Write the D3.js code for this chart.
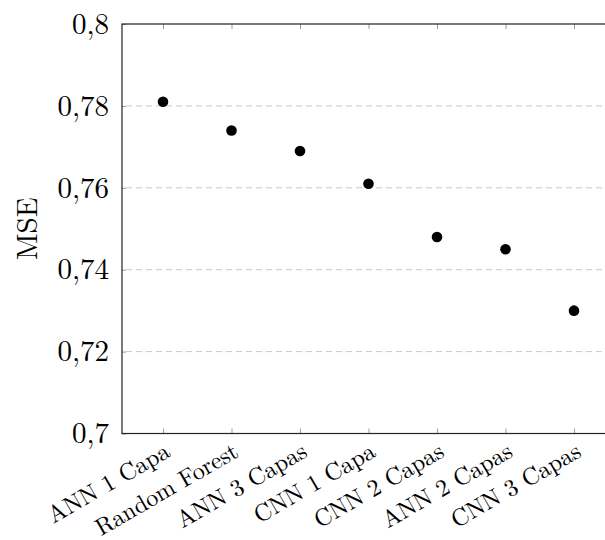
<!DOCTYPE html>
<html lang="es">
<head>
  <meta charset="UTF-8">
  <title>MSE por modelo</title>
  <script src="https://d3js.org/d3.v7.min.js"></script>
  <style>
    body { margin: 0; background: #fff; }
    text { font-family: "Latin Modern Roman", "CMU Serif", "Liberation Serif", serif; fill: #000; }
  </style>
</head>
<body>
<script>
  // modelos y su MSE
  var modelos = ["ANN 1 Capa", "Random Forest", "ANN 3 Capas", "CNN 1 Capa", "CNN 2 Capas", "ANN 2 Capas", "CNN 3 Capas"];
  var mse = [0.781, 0.774, 0.769, 0.761, 0.748, 0.745, 0.730];
  var yTicks = [0.7, 0.72, 0.74, 0.76, 0.78, 0.8];

  var width = 605, height = 540;
  var plot = { left: 122, right: 615, top: 24, bottom: 433.5 };

  var svg = d3.select("body").append("svg")
    .attr("width", width)
    .attr("height", height);

  var x = d3.scalePoint().domain(modelos).range([163, 574]);
  var y = d3.scaleLinear().domain([0.7, 0.8]).range([plot.bottom, plot.top]);

  var fmt = function(v) { return d3.format("~g")(v).replace(".", ","); };

  // rejilla discontinua
  svg.append("g").selectAll("line")
    .data(yTicks.filter(function(t) { return t > 0.7 && t < 0.8; }))
    .enter().append("line")
    .attr("x1", plot.left + 4).attr("x2", plot.right)
    .attr("y1", function(d) { return y(d); })
    .attr("y2", function(d) { return y(d); })
    .attr("stroke", "#c8c8c8")
    .attr("stroke-width", 1)
    .attr("stroke-dasharray", "6,4");

  // eje y
  var yAxis = d3.axisLeft(y).tickValues(yTicks).tickFormat(fmt).tickSize(-4).tickPadding(13);
  var gy = svg.append("g").attr("transform", "translate(" + plot.left + ",0)").call(yAxis);
  gy.select(".domain").remove();
  gy.selectAll(".tick line").attr("stroke", "#999");
  gy.selectAll(".tick text").style("font-size", "29px");

  // eje x (abajo)
  var xAxis = d3.axisBottom(x).tickSize(-5).tickFormat("");
  var gx = svg.append("g").attr("transform", "translate(0," + plot.bottom + ")").call(xAxis);
  gx.select(".domain").remove();
  gx.selectAll(".tick line").attr("stroke", "#999");
  gx.selectAll(".tick").append("text")
    .attr("transform", "translate(4,15) rotate(-30)")
    .attr("text-anchor", "end")
    .attr("dy", "0.35em")
    .style("font-size", "24px")
    .text(function(d) { return d; });

  // marcas arriba
  var gt = svg.append("g").attr("transform", "translate(0," + plot.top + ")")
    .call(d3.axisTop(x).tickSize(-5).tickFormat(""));
  gt.select(".domain").remove();
  gt.selectAll(".tick line").attr("stroke", "#999");

  // marco
  svg.append("rect")
    .attr("x", plot.left).attr("y", plot.top)
    .attr("width", plot.right - plot.left).attr("height", plot.bottom - plot.top)
    .attr("fill", "none")
    .attr("stroke", "#222")
    .attr("stroke-width", 1.2);

  // puntos
  svg.append("g").selectAll("circle")
    .data(modelos)
    .enter().append("circle")
    .attr("cx", function(d) { return x(d); })
    .attr("cy", function(d, i) { return y(mse[i]); })
    .attr("r", 5.3)
    .attr("fill", "#000");

  // etiqueta eje y
  svg.append("text")
    .attr("transform", "translate(37," + ((plot.top + plot.bottom) / 2) + ") rotate(-90)")
    .attr("text-anchor", "middle")
    .style("font-size", "29px")
    .text("MSE");
</script>
</body>
</html>
